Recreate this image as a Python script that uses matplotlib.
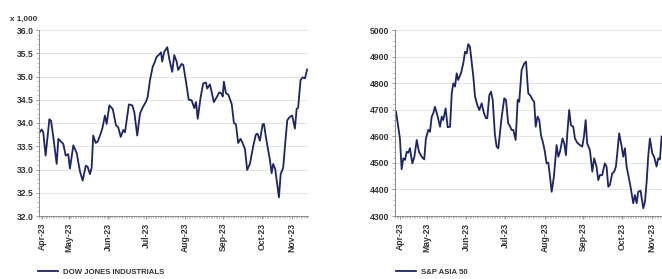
import matplotlib
matplotlib.use("Agg")
import matplotlib.pyplot as plt
from matplotlib.ticker import MultipleLocator

# trading-session index (0 = start of April 2023) and index level
dow_day = [0.0, 1.6, 2.5, 3.9, 6.1, 7.1, 8.4, 10.4, 11.4, 12.9, 14.3, 15.7, 17.2, 18.2,
           20.2, 22.2, 24.1, 25.7, 27.5, 28.6, 30.0, 31.0, 31.9, 33.4, 34.5, 35.9, 37.2,
           38.8, 39.8, 41.4, 43.4, 45.3, 46.6, 48.1, 49.6, 50.6, 52.9, 54.9, 56.1, 57.8,
           59.4, 60.8, 62.8, 63.9, 65.3, 66.9, 67.8, 69.2, 70.6, 71.8, 72.5, 73.7, 75.5,
           76.6, 78.4, 79.6, 81.0, 81.9, 83.9, 84.9, 86.5, 88.1, 89.8, 91.4, 92.4, 93.4,
           95.1, 96.6, 98.2, 99.0, 100.6, 102.9, 104.5, 106.1, 107.5, 108.1, 108.8, 110.0,
           111.4, 113.4, 114.7, 115.9, 117.2, 118.6, 119.8, 121.2, 122.5, 124.1, 126.1,
           127.6, 128.6, 130.0, 131.6, 132.4, 133.5, 135.9, 136.9, 137.8, 139.0, 141.2,
           142.2, 143.7, 144.7, 146.1, 147.6, 149.0, 150.6, 151.6, 152.5, 153.9, 155.1,
           156.5, 157.8]
dow_val = [33.78, 33.86, 33.80, 33.30, 34.08, 34.05, 33.70, 33.12, 33.66, 33.60, 33.55,
           33.30, 33.33, 33.02, 33.52, 33.35, 32.96, 32.76, 33.08, 33.06, 32.90, 33.04,
           33.73, 33.57, 33.60, 33.73, 33.87, 34.16, 33.98, 34.38, 34.30, 33.95, 33.91,
           33.70, 33.85, 33.80, 34.40, 34.38, 34.23, 33.73, 34.20, 34.32, 34.45, 34.55,
           34.92, 35.21, 35.28, 35.42, 35.47, 35.52, 35.32, 35.53, 35.63, 35.39, 35.10,
           35.46, 35.32, 35.14, 35.27, 35.25, 34.89, 34.50, 34.49, 34.32, 34.45, 34.09,
           34.55, 34.85, 34.87, 34.74, 34.83, 34.45, 34.55, 34.66, 34.63, 34.57, 34.89,
           34.64, 34.61, 34.41, 34.00, 33.97, 33.57, 33.66, 33.57, 33.44, 32.99, 33.12,
           33.51, 33.75, 33.77, 33.62, 33.97, 33.98, 33.70, 33.20, 32.92, 33.12, 33.01,
           32.40, 32.90, 33.04, 33.48, 34.06, 34.13, 34.16, 33.88, 34.30, 34.33, 34.92,
           34.98, 34.96, 35.15]

asia_day = [0.6, 1.9, 2.9, 3.9, 4.9, 5.9, 6.9, 7.8, 8.8, 10.2, 11.4, 12.8, 14.1, 15.7,
            17.2, 18.2, 19.6, 20.6, 21.6, 22.5, 23.5, 24.9, 26.5, 27.5, 28.4, 29.8, 31.0,
            32.4, 33.4, 34.3, 35.3, 36.3, 37.2, 38.8, 40.2, 41.2, 42.2, 43.1, 44.1, 46.1,
            47.1, 48.4, 49.6, 51.0, 52.4, 53.5, 54.3, 55.5, 56.5, 57.5, 58.8, 59.8, 60.8,
            62.8, 64.3, 65.3, 66.6, 67.6, 68.6, 69.6, 71.0, 72.2, 73.1, 74.5, 75.9, 77.1,
            78.4, 79.8, 81.0, 81.9, 82.8, 83.9, 84.9, 85.9, 87.2, 88.2, 89.2, 90.2, 91.2,
            92.2, 93.5, 95.1, 96.1, 97.1, 98.6, 99.6, 100.6, 101.4, 102.5, 103.5, 104.9,
            105.9, 107.2, 108.8, 110.2, 111.2, 112.2, 113.1, 114.7, 116.1, 117.2, 118.6,
            119.6, 120.6, 121.9, 123.5, 124.5, 125.5, 126.5, 127.8, 129.0, 130.0, 130.8,
            131.9, 133.4, 134.3, 135.3, 136.3, 137.6, 138.6, 140.2, 141.2, 142.2, 143.1,
            144.5, 146.1, 147.1, 148.1, 149.0, 150.0, 151.4, 152.5, 153.9, 154.9, 155.9,
            156.9]
asia_val = [4693, 4636, 4592, 4476, 4517, 4511, 4542, 4538, 4555, 4498, 4523, 4586, 4542,
            4523, 4513, 4592, 4624, 4617, 4674, 4686, 4711, 4680, 4636, 4674, 4661, 4705,
            4634, 4636, 4762, 4799, 4787, 4837, 4812, 4837, 4875, 4918, 4912, 4947, 4937,
            4824, 4749, 4718, 4699, 4724, 4686, 4668, 4668, 4755, 4768, 4737, 4605, 4561,
            4555, 4674, 4743, 4737, 4649, 4639, 4624, 4624, 4586, 4737, 4730, 4849, 4872,
            4881, 4762, 4752, 4737, 4730, 4636, 4674, 4661, 4605, 4573, 4542, 4498, 4501,
            4448, 4391, 4448, 4567, 4523, 4542, 4592, 4573, 4529, 4611, 4699, 4642, 4636,
            4592, 4576, 4567, 4561, 4599, 4661, 4573, 4548, 4467, 4517, 4486, 4435, 4454,
            4454, 4498, 4486, 4410, 4417, 4460, 4467, 4486, 4536, 4611, 4561, 4523, 4555,
            4486, 4442, 4410, 4348, 4379, 4348, 4391, 4395, 4329, 4354, 4429, 4523, 4592,
            4536, 4523, 4486, 4517, 4513, 4599]

month_labels = ["Apr-23", "May-23", "Jun-23", "Jul-23", "Aug-23", "Sep-23", "Oct-23", "Nov-23"]
dow_month_pos = [1.8, 17.6, 40.6, 62.9, 85.9, 108.2, 131.2, 148.8]
asia_month_pos = [2.9, 18.8, 41.8, 64.7, 88.2, 110.6, 133.5, 151.2]

LINE = "#1c2566"
TXT = "#333333"
FS = 6.2

plt.rcParams["font.family"] = ["Liberation Sans", "DejaVu Sans"]

fig = plt.figure(figsize=(6.62, 2.79), dpi=100)
ax1 = fig.add_axes([39 / 662, 63 / 279, 269 / 662, 186 / 279])
ax2 = fig.add_axes([395 / 662, 63 / 279, 269 / 662, 186 / 279])


def style(ax, ticks, yminor):
    for s in ["top", "right"]:
        ax.spines[s].set_visible(False)
    for s in ["left", "bottom"]:
        ax.spines[s].set_color("#8a8a8a")
        ax.spines[s].set_linewidth(0.7)
    ax.grid(axis="y", color="#e4e4e4", linewidth=0.7)
    ax.set_axisbelow(True)
    ax.set_xticks(ticks)
    ax.set_xticklabels(month_labels, rotation=90, fontsize=FS, fontweight="bold", color=TXT)
    ax.xaxis.set_minor_locator(MultipleLocator(1))
    ax.yaxis.set_minor_locator(MultipleLocator(yminor))
    ax.tick_params(axis="x", which="major", length=2, width=0.6, color="#8a8a8a", pad=3)
    ax.tick_params(axis="x", which="minor", length=1.2, width=0.4, color="#8a8a8a")
    ax.tick_params(axis="y", which="major", length=2, width=0.6, color="#8a8a8a", pad=2,
                   labelsize=FS, labelcolor=TXT)
    ax.tick_params(axis="y", which="minor", length=1.2, width=0.4, color="#8a8a8a")
    for lab in ax.get_yticklabels():
        lab.set_fontweight("bold")
    ax.set_xlim(0, 158.3)


ax1.plot(dow_day, dow_val, color=LINE, linewidth=1.3, label="DOW JONES INDUSTRIALS")
ax1.set_ylim(32.0, 36.0)
ax1.set_yticks([32.0, 32.5, 33.0, 33.5, 34.0, 34.5, 35.0, 35.5, 36.0])
ax1.set_yticklabels(["%.1f" % v for v in ax1.get_yticks()])
style(ax1, dow_month_pos, 0.1)
fig.text(10 / 662, 1 - 19 / 279, "x 1,000", fontsize=5.8, fontweight="bold", color=TXT,
         va="center", ha="left")

ax2.plot(asia_day, asia_val, color=LINE, linewidth=1.3, label="S&P ASIA 50")
ax2.set_ylim(4300, 5000)
ax2.set_yticks(range(4300, 5001, 100))
style(ax2, asia_month_pos, 20)

for ax, x0 in [(ax1, 38 / 662), (ax2, 396 / 662)]:
    leg = ax.legend(loc="center left", bbox_to_anchor=(x0, 1 - 272 / 279),
                    bbox_transform=fig.transFigure, frameon=False, fontsize=5.6,
                    handlelength=2.6, handletextpad=0.6, borderpad=0, borderaxespad=0)
    for t in leg.get_texts():
        t.set_fontweight("bold")
        t.set_color(TXT)

fig.savefig("out.png", dpi=100)
